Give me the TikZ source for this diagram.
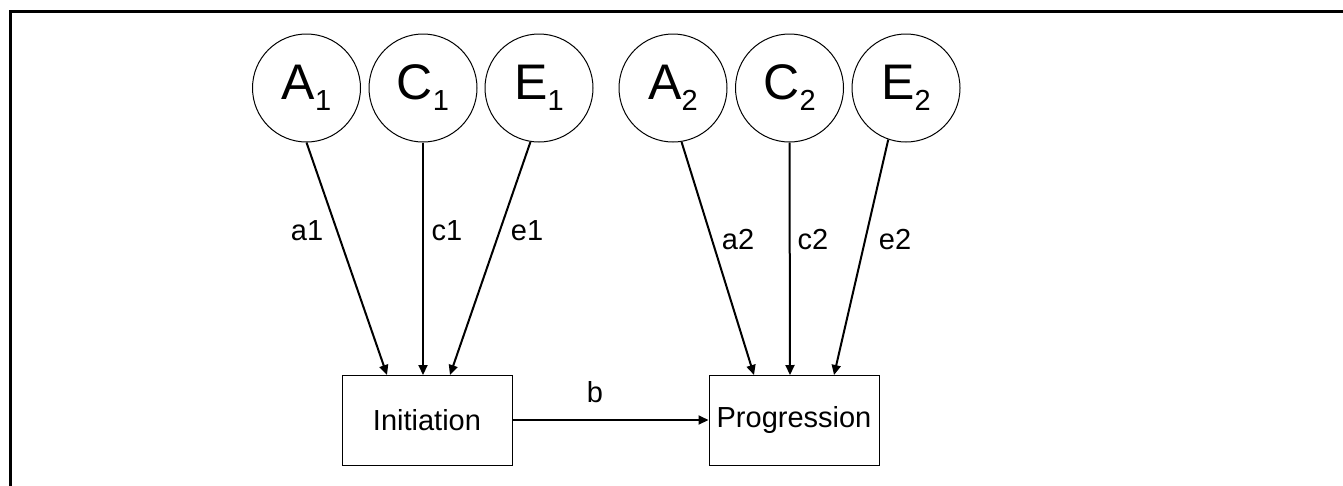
\documentclass[tikz,border=0pt]{standalone}
\usepackage{fontspec}
\setmainfont{Liberation Sans}
\usetikzlibrary{arrows.meta}
\begin{document}
\begin{tikzpicture}[x=1pt,y=-1pt,
  latent/.style={draw,circle,line width=1pt,minimum size=108pt,inner sep=0pt},
  observed/.style={draw,rectangle,line width=1pt,minimum width=170pt,minimum height=90pt,inner sep=0pt,font=\fontsize{29}{34}\selectfont},
  path/.style={line width=2pt,-{Triangle[length=10pt,width=9pt]}},
  lab/.style={anchor=base,inner sep=0pt,font=\fontsize{29}{34}\selectfont}]
\useasboundingbox (0,0) rectangle (1343,485);
\clip (0,0) rectangle (1343,485);
\draw[line width=3pt] (10,500) -- (10,11) -- (1360,11);
\newcommand{\lv}[2]{{\fontsize{50}{50}\selectfont #1}\raisebox{-11pt}{\fontsize{29}{29}\selectfont #2}}
\node[latent] (A1) at (306.5,88) {\lv{A}{1}};
\node[latent] (C1) at (423,88) {\lv{C}{1}};
\node[latent] (E1) at (539,88) {\lv{E}{1}};
\node[latent] (A2) at (673,88) {\lv{A}{2}};
\node[latent] (C2) at (789.5,88) {\lv{C}{2}};
\node[latent] (E2) at (906,88) {\lv{E}{2}};
\node[observed] (I) at (427,420) {Initiation};
\node[observed] (P) at (794,420) {Progression};
\coordinate (ia) at (387,375);
\coordinate (ic) at (423,375);
\coordinate (ie) at (450,375);
\coordinate (pa) at (754,375);
\coordinate (pc) at (790,375);
\coordinate (pe) at (834,375);
\draw[path] (A1.south) -- (ia);
\draw[path] (C1.south) -- (ic);
\draw[path] (E1.-99) -- (ie);
\draw[path] (A2.-81) -- (pa);
\draw[path] (C2.south) -- (pc);
\draw[path] (E2.-109) -- (pe);
\draw[path] (I.east) -- (P.west);
\node[lab] (la1) at (307,240) {a1};
\node[lab] (lc1) at (447,240) {c1};
\node[lab] (le1) at (527,240) {e1};
\node[lab] (la2) at (738,249) {a2};
\node[lab] (lc2) at (813,249) {c2};
\node[lab] (le2) at (895,249) {e2};
\node[lab] (lb) at (595,402) {b};
\end{tikzpicture}
\end{document}
